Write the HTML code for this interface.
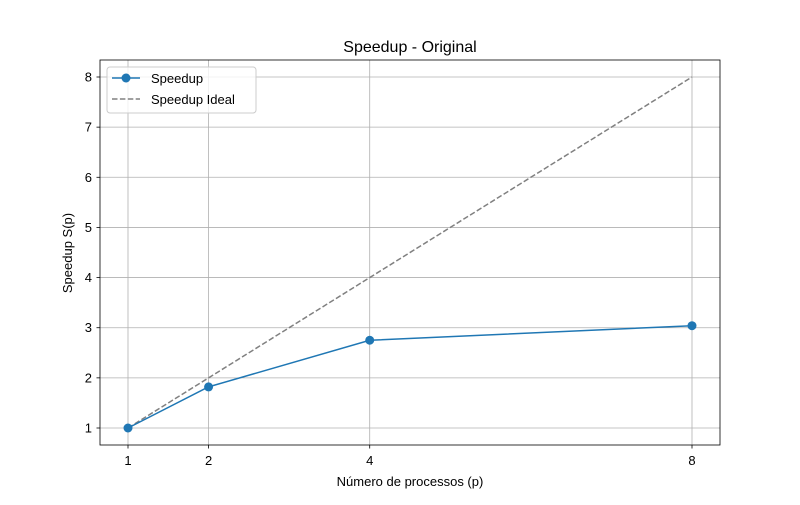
<!DOCTYPE html>
<html><head><meta charset="utf-8"><style>
body{margin:0;background:#fff}
svg text{font-family:"Liberation Sans","DejaVu Sans",sans-serif;fill:#000}
</style></head><body>
<svg id="chart" width="800" height="500" xmlns="http://www.w3.org/2000/svg">
<rect width="800" height="500" fill="#fff"/>
<g id="grid"></g>
<g id="marks"></g>
<rect x="100" y="60" width="620" height="385" fill="none" stroke="#000" stroke-width="0.8"/>
<g id="ticks"></g>
<text x="410" y="52" text-anchor="middle" font-size="16">Speedup - Original</text>
<text x="410" y="486" text-anchor="middle" font-size="13">Número de processos (p)</text>
<text transform="translate(72,253) rotate(-90)" text-anchor="middle" font-size="13">Speedup S(p)</text>
<g>
<rect x="107" y="67" width="149" height="46" rx="3" fill="#fff" fill-opacity="0.8" stroke="#ccc"/>
<g>
<line x1="112" y1="78" x2="140" y2="78" stroke="#1f77b4" stroke-width="1.5"/>
<circle cx="126" cy="78" r="4.5" fill="#1f77b4"/>
<text x="151" y="83" font-size="13">Speedup</text></g>
<g>
<line x1="112" y1="99" x2="140" y2="99" stroke="#808080" stroke-width="1.5" stroke-dasharray="5.5,2.4"/>
<text x="151" y="104" font-size="13">Speedup Ideal</text></g>
</g>
</svg>
<script>
const procs=[1,2,4,8];
const speedup=[1,1.82,2.75,3.04];
const ideal=[1,2,4,8];
const xTicks=[1,2,4,8];
const yTicks=[1,2,3,4,5,6,7,8];
const NS="http://www.w3.org/2000/svg";
const xs=v=>128+(v-1)*(692-128)/7;
const ys=v=>428-(v-1)*(428-77)/7;
function mk(tag,attrs,parent){const e=document.createElementNS(NS,tag);for(const k in attrs)e.setAttribute(k,attrs[k]);parent.appendChild(e);return e;}
const grid=document.getElementById('grid'),ticks=document.getElementById('ticks'),marks=document.getElementById('marks');
xTicks.forEach(t=>{const x=xs(t);
const g=mk('line',{x1:x,x2:x,y1:60,y2:445,stroke:'#b0b0b0','stroke-width':0.8},grid);


mk('line',{x1:x,x2:x,y1:445,y2:448.5,stroke:'#000','stroke-width':0.8},ticks);
const tx=mk('text',{x:x,y:465,'text-anchor':'middle','font-size':13},ticks);tx.textContent=t;

});
yTicks.forEach(t=>{const y=ys(t);
const g=mk('line',{x1:100,x2:720,y1:y,y2:y,stroke:'#b0b0b0','stroke-width':0.8},grid);


mk('line',{x1:96.5,x2:100,y1:y,y2:y,stroke:'#000','stroke-width':0.8},ticks);
const tx=mk('text',{x:92,y:y+4.5,'text-anchor':'end','font-size':13},ticks);tx.textContent=t;

});
const il=mk('polyline',{points:procs.map((p,i)=>xs(p)+','+ys(ideal[i])).join(' '),fill:'none',stroke:'#808080','stroke-width':1.5,'stroke-dasharray':'5.5,2.4'},marks);


const sl=mk('polyline',{points:procs.map((p,i)=>xs(p)+','+ys(speedup[i])).join(' '),fill:'none',stroke:'#1f77b4','stroke-width':1.5},marks);


procs.forEach((p,i)=>{const c=mk('circle',{cx:xs(p),cy:ys(speedup[i]),r:4.5,fill:'#1f77b4'},marks);

});
</script>
</body></html>
